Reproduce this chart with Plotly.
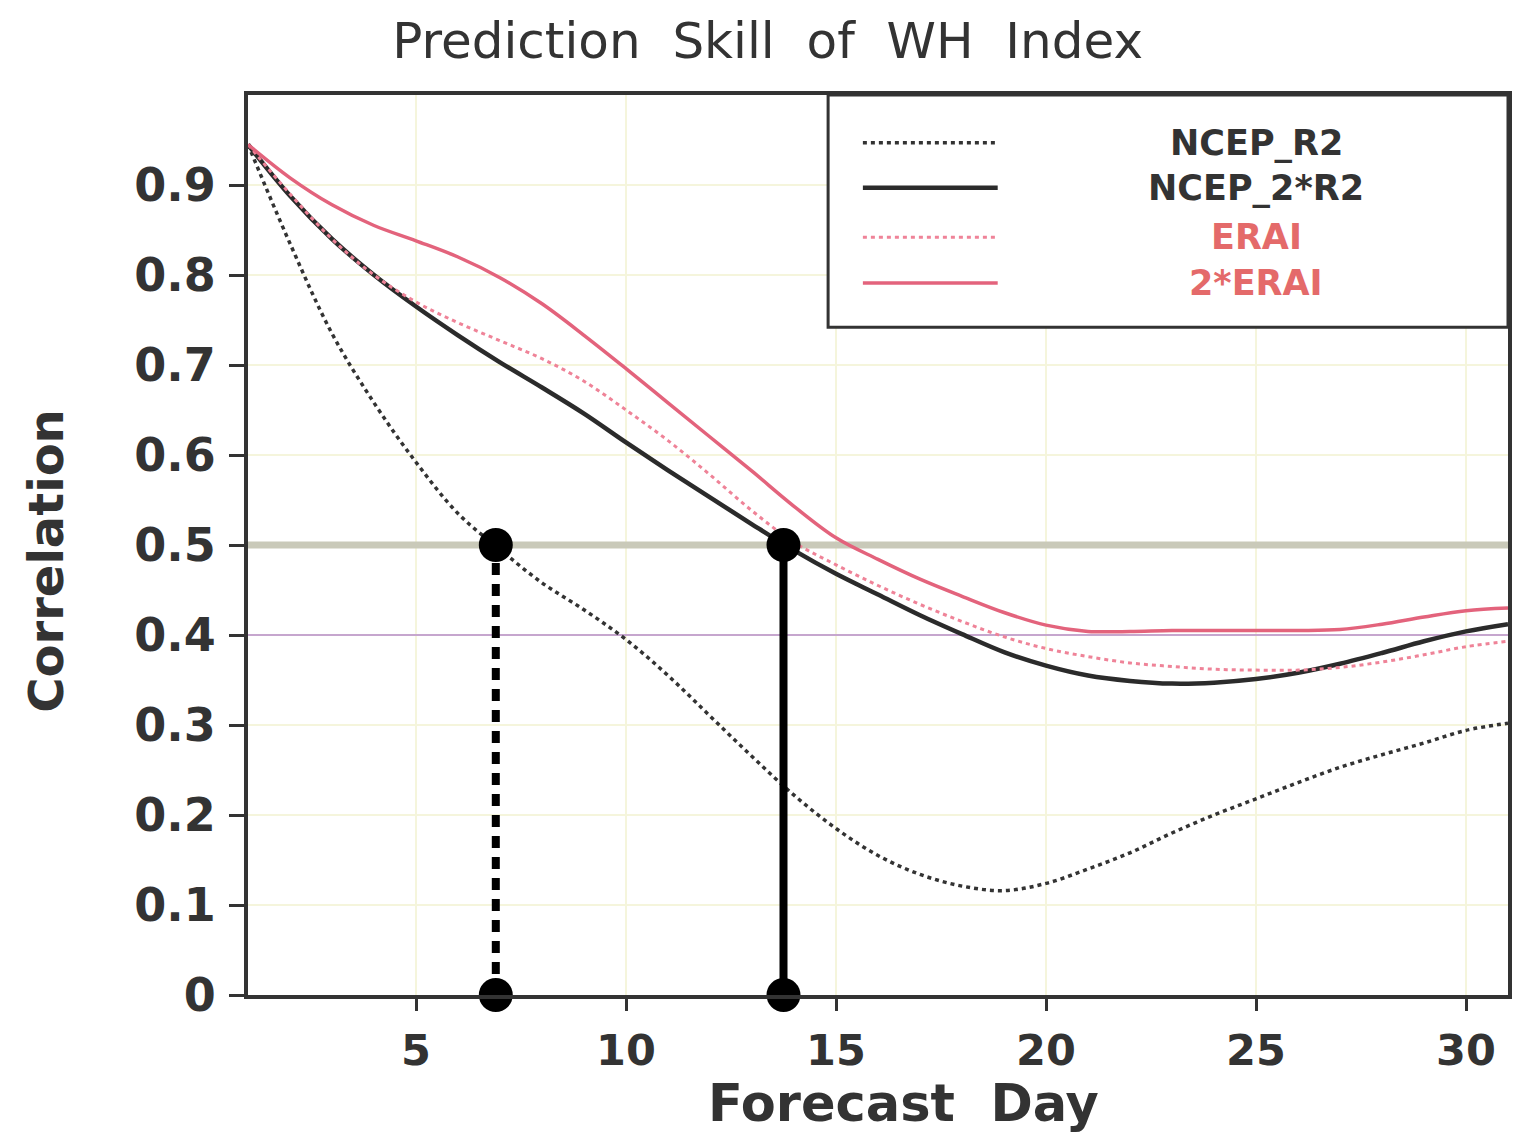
import plotly.graph_objects as go

# Forecast lead time (days) and bivariate correlation skill of the WH index
days = list(range(1, 32))

ncep_r2 = [0.945, 0.835, 0.735, 0.658, 0.592, 0.535, 0.495, 0.458, 0.428, 0.395, 0.355,
           0.31, 0.265, 0.222, 0.185, 0.155, 0.134, 0.121, 0.116, 0.124, 0.14, 0.158,
           0.18, 0.2, 0.218, 0.236, 0.253, 0.267, 0.28, 0.294, 0.302]
ncep_2r2 = [0.945, 0.888, 0.84, 0.8, 0.765, 0.733, 0.703, 0.675, 0.646, 0.614, 0.583,
            0.553, 0.523, 0.494, 0.468, 0.445, 0.422, 0.401, 0.381, 0.366, 0.355, 0.349,
            0.346, 0.347, 0.351, 0.358, 0.368, 0.38, 0.393, 0.404, 0.412]
erai = [0.945, 0.89, 0.84, 0.80, 0.77, 0.747, 0.727, 0.707, 0.682, 0.65, 0.616,
        0.578, 0.538, 0.503, 0.478, 0.455, 0.434, 0.415, 0.398, 0.385, 0.376, 0.369,
        0.365, 0.362, 0.361, 0.361, 0.364, 0.37, 0.378, 0.387, 0.393]
erai_2 = [0.945, 0.908, 0.878, 0.855, 0.838, 0.82, 0.797, 0.768, 0.733, 0.696, 0.658,
          0.62, 0.582, 0.543, 0.508, 0.484, 0.462, 0.443, 0.425, 0.411, 0.404, 0.404,
          0.405, 0.405, 0.405, 0.405, 0.406, 0.412, 0.42, 0.427, 0.43]

series_names = ["NCEP_R2", "NCEP_2*R2", "ERAI", "2*ERAI"]
series_values = [ncep_r2, ncep_2r2, erai, erai_2]
series_colors = ["#333333", "#2b2b2b", "#ef8398", "#e3637c"]
series_dash = ["4px,4px", "solid", "4px,4px", "solid"]
series_width = [3.5, 4.5, 3, 3.5]
text_colors = ["#333333", "#333333", "#e46a6a", "#e46a6a"]

# Skill reference levels and the lead days where each NCEP curve drops to 0.5
ref_levels = [0.5, 0.4]
ref_colors = ["#c9c9b9", "#c6a6ce"]
ref_widths = [7, 2]
cross_days = [6.9, 13.75]
cross_dash = ["12px,9px", "solid"]

y_ticks = [0, 0.1, 0.2, 0.3, 0.4, 0.5, 0.6, 0.7, 0.8, 0.9]
x_ticks = [5, 10, 15, 20, 25, 30]

font_main = "DejaVu Sans"
dark = "#333333"

fig = go.Figure()

# Horizontal reference levels spanning the full lead-time range
for lvl, col, w in zip(ref_levels, ref_colors, ref_widths):
    fig.add_trace(go.Scatter(x=[days[0], days[-1]], y=[lvl, lvl], mode="lines",
                             line=dict(color=col, width=w), showlegend=False,
                             hoverinfo="skip"))

for name, vals, col, dash, w in zip(series_names, series_values, series_colors,
                                    series_dash, series_width):
    fig.add_trace(go.Scatter(x=days, y=vals, name=name, mode="lines",
                             line=dict(color=col, width=w, dash=dash, shape="spline",
                                       smoothing=1.0),
                             showlegend=False))

for d, dash in zip(cross_days, cross_dash):
    fig.add_trace(go.Scatter(x=[d, d], y=[0, ref_levels[0]], mode="lines+markers",
                             line=dict(color="black", width=8, dash=dash),
                             marker=dict(color="black", size=34),
                             cliponaxis=False, showlegend=False))

# Boxed key in the upper right corner of the plot
shapes = []
box_x0, box_y0 = 0.4604, 0.742
shapes.append(dict(type="rect", xref="x domain", yref="y domain", x0=box_x0, x1=1.0,
                   y0=box_y0, y1=1.0, line=dict(color=dark, width=3),
                   fillcolor="white", layer="above"))
row_y = [0.947, 0.897, 0.842, 0.791]
annotations = []
for name, col, dash, w, tcol, ry in zip(series_names, series_colors, series_dash,
                                        series_width, text_colors, row_y):
    shapes.append(dict(type="line", xref="x domain", yref="y domain", x0=0.488, x1=0.595,
                       y0=ry, y1=ry, line=dict(color=col, width=w, dash=dash),
                       layer="above"))
    annotations.append(dict(xref="x domain", yref="y domain", x=0.80, y=ry, text=name,
                            showarrow=False, xanchor="center", yanchor="middle",
                            font=dict(family=font_main, size=35, color=tcol, weight="bold")))

# Axis titles
annotations.append(dict(xref="paper", yref="paper", x=0.52, y=-0.12, text="Forecast  Day",
                        showarrow=False, xanchor="center", yanchor="middle",
                        font=dict(family=font_main, size=51, color=dark, weight="bold")))
annotations.append(dict(xref="paper", yref="paper", x=-0.16, y=0.483, text="Correlation",
                        textangle=-90, showarrow=False, xanchor="center", yanchor="middle",
                        font=dict(family=font_main, size=48, color=dark, weight="bold")))

fig.update_layout(
    width=1514, height=1134,
    margin=dict(l=248, r=2, t=95, b=139),
    paper_bgcolor="white", plot_bgcolor="white",
    shapes=shapes, annotations=annotations,
    font=dict(family=font_main, color=dark),
    hovermode=False,
    title=dict(text="Prediction  Skill  of  WH  Index", x=0.507, xanchor="center",
               y=1 - 40 / 1134, yref="container", yanchor="middle",
               font=dict(family=font_main, size=50, color=dark)),
)
fig.update_xaxes(range=[1, 31], tickvals=x_ticks, showgrid=True, gridcolor="#f5f5dc",
                 gridwidth=2, zeroline=False, showline=True, mirror=True,
                 linecolor=dark, linewidth=4, ticks="outside", ticklen=12, tickwidth=3,
                 tickcolor=dark, ticklabelstandoff=2,
                 tickfont=dict(family=font_main, size=43, color=dark, weight="bold"))
fig.update_yaxes(range=[0, 1.0], tickvals=y_ticks, showgrid=True, gridcolor="#f5f5dc",
                 gridwidth=2, zeroline=False, showline=True, mirror=True,
                 linecolor=dark, linewidth=4, ticks="outside", ticklen=15, tickwidth=3,
                 tickcolor=dark, ticklabelstandoff=4,
                 tickfont=dict(family=font_main, size=46, color=dark, weight="bold"))

fig.write_html("out.html")
